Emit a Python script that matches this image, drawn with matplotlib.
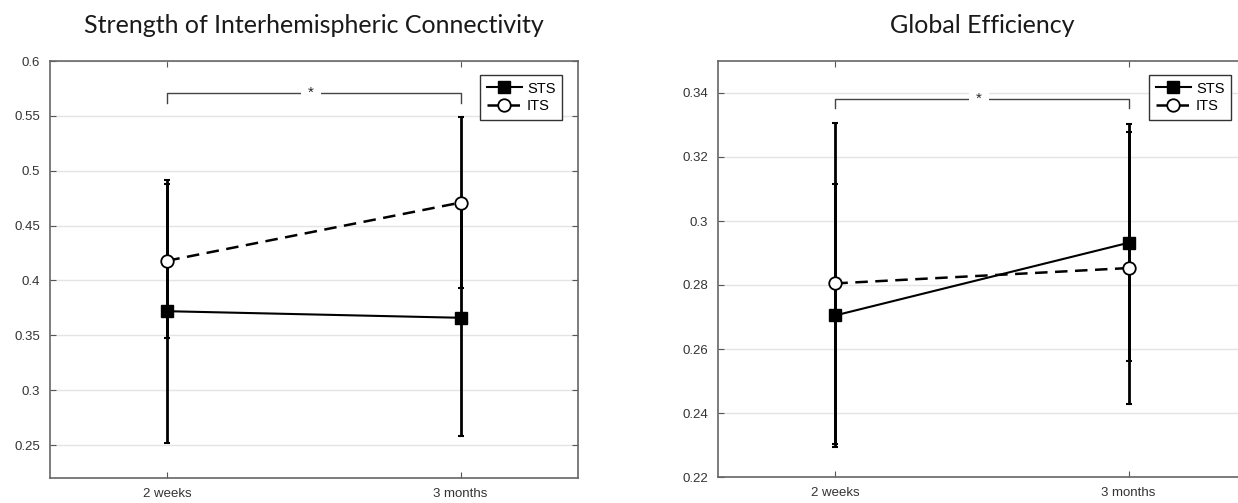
import numpy as np
import matplotlib.pyplot as plt

plt.rcParams['font.family'] = ['Liberation Sans', 'DejaVu Sans']

# time points
timepoints = ["2 weeks", "3 months"]

# strength of interhemispheric connectivity
sic_sts = [0.372, 0.366]
sic_sts_err = [0.120, 0.108]
sic_its = [0.418, 0.471]
sic_its_err = [0.070, 0.078]

# global efficiency
ge_sts = [0.2705, 0.2932]
ge_sts_err = [0.0410, 0.0370]
ge_its = [0.2805, 0.2853]
ge_its_err = [0.0502, 0.0425]

titles = ["Strength of Interhemispheric Connectivity", "Global Efficiency"]
ylims = [(0.22, 0.6), (0.22, 0.35)]
yticks = [[0.25, 0.3, 0.35, 0.4, 0.45, 0.5, 0.55, 0.6],
          [0.22, 0.24, 0.26, 0.28, 0.3, 0.32, 0.34]]
ytick_labels = [["0.25", "0.3", "0.35", "0.4", "0.45", "0.5", "0.55", "0.6"],
                ["0.22", "0.24", "0.26", "0.28", "0.3", "0.32", "0.34"]]
# significance bracket: height, leg bottom
brackets = [(0.5707, 0.5620), (0.3381, 0.3353)]

fig = plt.figure(figsize=(12.38, 5.03), dpi=100)
positions = [[50 / 1238, 25 / 503, 528 / 1238, 417 / 503],
             [718 / 1238, 26 / 503, 528 / 1238, 416 / 503]]
legend_anchor = [(562 / 1238, 1 - 75 / 503), (1231 / 1238, 1 - 75 / 503)]

data = [(sic_sts, sic_sts_err, sic_its, sic_its_err),
        (ge_sts, ge_sts_err, ge_its, ge_its_err)]

x = np.arange(len(timepoints))

for i, (sts, sts_err, its, its_err) in enumerate(data):
    ax = fig.add_axes(positions[i])
    ax.set_xlim(-0.4, 1.4)
    ax.set_ylim(*ylims[i])
    ax.set_yticks(yticks[i])
    ax.set_yticklabels(ytick_labels[i])
    ax.set_xticks(x)
    ax.set_xticklabels(timepoints)
    ax.yaxis.grid(True, color='#e4e4e4', lw=1)
    ax.set_axisbelow(True)
    ax.tick_params(direction='in', length=4, top=True, right=True,
                   labelsize=9.5, colors='#555555', labelcolor='#333333', pad=7)
    for s in ax.spines.values():
        s.set_color('#666666')
        s.set_linewidth(1.2)

    ax.errorbar(x, sts, yerr=sts_err, fmt='none', ecolor='black',
                elinewidth=2, capsize=2, capthick=1.5, zorder=3)
    ax.errorbar(x, its, yerr=its_err, fmt='none', ecolor='black',
                elinewidth=2, capsize=2, capthick=1.5, zorder=3)
    ax.plot(x, sts, color='black', lw=1.5, marker='s', markersize=9,
            markerfacecolor='black', label='STS', zorder=4)
    ax.plot(x, its, color='black', lw=1.8, ls=(0, (5, 3)), marker='o',
            markersize=9, markerfacecolor='white', markeredgewidth=1.3,
            label='ITS', zorder=4)

    # significance bracket
    yb, yl = brackets[i]
    ax.plot([0, 0, 1, 1], [yl, yb, yb, yl], color='#444444', lw=1, zorder=2)
    ax.text(0.49, yb, "*", ha='center', va='center', fontsize=11,
            color='#262626', zorder=5,
            bbox=dict(facecolor='white', edgecolor='none', pad=5))

    leg = ax.legend(loc='upper right', bbox_to_anchor=legend_anchor[i],
                    bbox_transform=fig.transFigure, borderaxespad=0,
                    fontsize=10.5, frameon=True, fancybox=False,
                    borderpad=0.45, handlelength=2.4, handletextpad=0.35,
                    labelspacing=0.25, framealpha=1)
    leg.get_frame().set_edgecolor('#333333')
    leg.get_frame().set_linewidth(1)

    ax.set_title(titles[i], fontsize=18, family=['Lato', 'DejaVu Sans'],
                 color='#1a1a1a', pad=20)

fig.savefig("out.png", dpi=100)
